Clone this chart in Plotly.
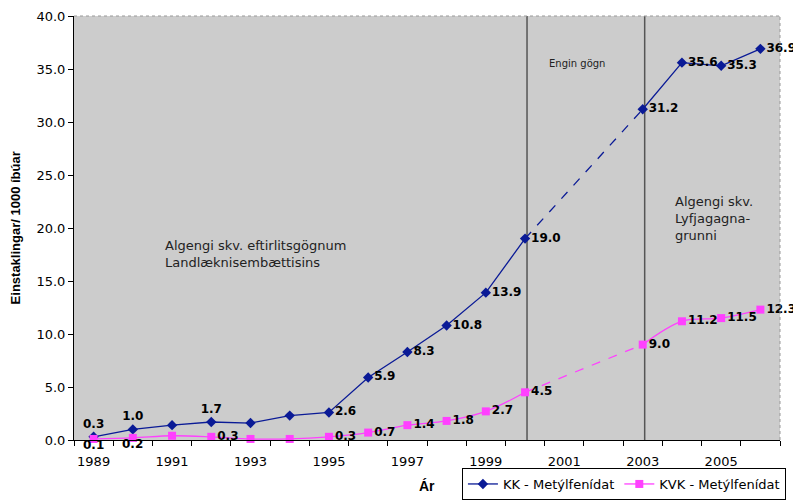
import plotly.graph_objects as go

years = list(range(1989, 2007))
kk_values = [0.3, 1.0, 1.4, 1.7, 1.6, 2.3, 2.6, 5.9, 8.3, 10.8, 13.9, 19.0, None, None, 31.2, 35.6, 35.3, 36.9]
kvk_values = [0.1, 0.2, 0.4, 0.3, 0.1, 0.1, 0.3, 0.7, 1.4, 1.8, 2.7, 4.5, None, None, 9.0, 11.2, 11.5, 12.3]
kk_labeled = [True, True, False, True, False, False, True, True, True, True, True, True, False, False, True, True, True, True]
kvk_labeled = [True, True, False, True, False, False, True, True, True, True, True, True, False, False, True, True, True, True]
kk_pos = ["top center", "top center", "middle right", "top center"] + ["middle right"] * 14
kvk_pos = ["bottom center", "bottom center"] + ["middle right"] * 16
divider_years = [2000, 2003]
gap_span = [2000, 2003]
y_ticks = [0, 5, 10, 15, 20, 25, 30, 35, 40]
x_ticks = [1989, 1991, 1993, 1995, 1997, 1999, 2001, 2003, 2005]

KK_COLOR = "#0a1a96"
KVK_COLOR = "#ff40ff"
FONT = "DejaVu Sans"
LABEL_FONT = dict(family=FONT, size=12, color="black", weight="bold")


def labels(vals, flags, pos=None):
    out = []
    for i, (v, f) in enumerate(zip(vals, flags)):
        if f and v is not None and (pos is None or pos[i] != "bottom center"):
            out.append(f"{v:.1f}")
        else:
            out.append("")
    return out


def span(vals):
    i0 = years.index(gap_span[0])
    i1 = years.index(gap_span[1])
    return [years[i0], years[i1]], [vals[i0], vals[i1]]


fig = go.Figure()

for vals, col in [(kk_values, KK_COLOR), (kvk_values, KVK_COLOR)]:
    gx, gy = span(vals)
    fig.add_trace(go.Scatter(x=gx, y=gy, mode="lines", showlegend=False,
                             line=dict(color=col, width=1.3, dash="dash"),
                             hoverinfo="skip"))

fig.add_trace(go.Scatter(
    x=years, y=kk_values, mode="lines+markers+text", name="KK - Metýlfenídat",
    line=dict(color=KK_COLOR, width=1.3), connectgaps=False, cliponaxis=False,
    marker=dict(symbol="diamond", size=8, color=KK_COLOR),
    text=labels(kk_values, kk_labeled), textposition=kk_pos,
    textfont=LABEL_FONT,
))
fig.add_trace(go.Scatter(
    x=years, y=kvk_values, mode="lines+markers+text", name="KVK - Metýlfenídat",
    line=dict(color=KVK_COLOR, width=1.3, shape="spline"), connectgaps=False, cliponaxis=False,
    marker=dict(symbol="square", size=8, color=KVK_COLOR),
    text=labels(kvk_values, kvk_labeled, kvk_pos), textposition=kvk_pos,
    textfont=LABEL_FONT,
))

shapes = []
for yr in divider_years:
    shapes.append(dict(type="line", xref="x", yref="paper", x0=yr + 0.05, x1=yr + 0.05, y0=0, y1=1,
                       line=dict(color="#555555", width=1.5), layer="below"))
shapes.append(dict(type="line", xref="paper", yref="paper", x0=0, x1=1, y0=1, y1=1,
                   line=dict(color="#999999", width=1, dash="dot")))
shapes.append(dict(type="line", xref="paper", yref="paper", x0=1, x1=1, y0=0, y1=1,
                   line=dict(color="#999999", width=1, dash="dot")))

annotations = [
    dict(xref="paper", yref="paper", x=0.126, y=0.481, xanchor="left", yanchor="top",
         text="Algengi skv. eftirlitsgögnum<br>Landlæknisembættisins", showarrow=False, align="left",
         font=dict(family=FONT, size=13, color="#222222")),
    dict(xref="paper", yref="paper", x=0.712, y=0.887, xanchor="center", yanchor="middle",
         text="Engin gögn", showarrow=False,
         font=dict(family=FONT, size=10, color="#222222")),
    dict(xref="paper", yref="paper", x=0.849, y=0.585, xanchor="left", yanchor="top",
         text="Algengi skv.<br>Lyfjagagna-<br>grunni", showarrow=False, align="left",
         font=dict(family=FONT, size=13, color="#222222")),
    dict(xref="paper", yref="paper", x=0.5, y=-0.108, xanchor="center", yanchor="middle",
         text="<b>Ár</b>", showarrow=False,
         font=dict(family="Liberation Sans", size=14, color="black")),
    dict(xref="paper", yref="paper", x=-0.083, y=0.5, xanchor="center", yanchor="middle",
         text="<b>Einstaklingar/ 1000 íbúar</b>", showarrow=False, textangle=-90,
         font=dict(family="Liberation Sans", size=13, color="black")),
]

# labels placed just below their markers (close to the axis, as in the original)
for i, p in enumerate(kvk_pos):
    if p == "bottom center" and kvk_labeled[i] and kvk_values[i] is not None:
        annotations.append(dict(xref="x", yref="y", x=years[i], y=kvk_values[i],
                                text=f"{kvk_values[i]:.1f}", showarrow=False,
                                xanchor="center", yanchor="middle", yshift=-6,
                                font=LABEL_FONT))

fig.update_layout(
    width=793, height=492,
    margin=dict(l=66, r=21, t=8, b=60),
    paper_bgcolor="white", plot_bgcolor="#cccccc",
    font=dict(family=FONT, size=13, color="black"),
    shapes=shapes, annotations=annotations,
    legend=dict(orientation="h", xref="container", yref="container", x=0.981, xanchor="right",
                y=0.0, yanchor="bottom", bordercolor="black", borderwidth=1,
                bgcolor="white", font=dict(family=FONT, size=13),
                tracegroupgap=0),
    xaxis=dict(range=[years[0] - 0.5, years[-1] + 0.5], tickmode="array", tickvals=x_ticks,
               ticktext=[str(t) for t in x_ticks], ticks="", showgrid=False, zeroline=False,
               showline=True, linecolor="black", linewidth=1, automargin=False,
               ticklabelstandoff=9,
               minor=dict(tickmode="linear", tick0=years[0] - 0.5, dtick=1, ticks="outside",
                          ticklen=5, tickcolor="black", showgrid=False),
               tickfont=dict(family=FONT, size=13)),
    yaxis=dict(range=[0, 40], tickmode="array", tickvals=y_ticks,
               ticktext=[f"{t:.1f}" for t in y_ticks], ticks="outside", ticklen=5,
               tickcolor="black", showgrid=False, zeroline=False, automargin=False,
               showline=True, linecolor="black", linewidth=1,
               tickfont=dict(family=FONT, size=13)),
)

fig.write_html("out.html")
